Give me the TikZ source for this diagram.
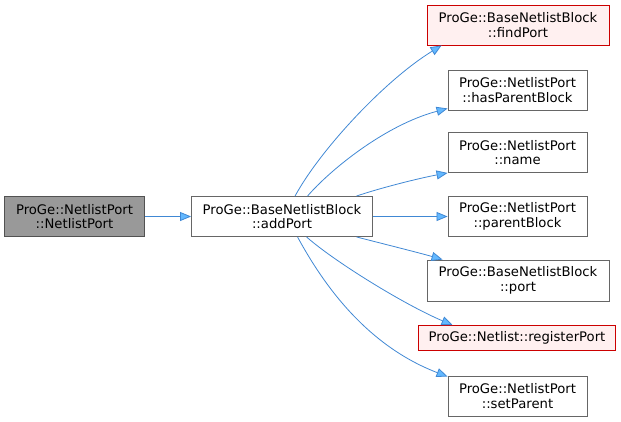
\documentclass[tikz,border=0pt]{standalone}
\usepackage{fontspec}
\setmainfont{DejaVu Sans}
\usetikzlibrary{arrows.meta}
\definecolor{edgec}{HTML}{4088D4}
\definecolor{arrowc}{HTML}{63B8FF}
\definecolor{redfill}{HTML}{FFF0F0}
\definecolor{redline}{HTML}{CC0000}
\definecolor{grayfill}{HTML}{999999}
\definecolor{grayline}{HTML}{666666}
\tikzset{
  box/.style={draw=grayline, fill=white, line width=0.9pt, inner sep=0pt, align=center,
    font=\fontsize{13.2}{14.5}\selectfont, text=black},
  curbox/.style={box, fill=grayfill, draw=grayline!80!black},
  redbox/.style={box, fill=redfill, draw=redline},
  edge/.style={draw=edgec, line width=0.8pt,
    -{Triangle[length=11pt,width=9pt,fill=arrowc]}},
}
\begin{document}
\begin{tikzpicture}[x=1pt,y=-1pt]
\useasboundingbox (0,0) rectangle (621,421);
\node[curbox, minimum width=140pt, minimum height=40pt] (np) at (74.5,216.5) {ProGe::NetlistPort\\::NetlistPort};
\node[box, minimum width=181pt, minimum height=40pt] (ap) at (282,216.5) {ProGe::BaseNetlistBlock\\::addPort};
\node[redbox, minimum width=182pt, minimum height=40pt] (fp) at (518,25) {ProGe::BaseNetlistBlock\\::findPort};
\node[box, minimum width=139pt, minimum height=40pt] (hp) at (517.5,90) {ProGe::NetlistPort\\::hasParentBlock};
\node[box, minimum width=139pt, minimum height=40pt] (nm) at (517.5,152.5) {ProGe::NetlistPort\\::name};
\node[box, minimum width=139pt, minimum height=40pt] (pb) at (517.5,216.5) {ProGe::NetlistPort\\::parentBlock};
\node[box, minimum width=182pt, minimum height=41pt] (pt) at (518,280.5) {ProGe::BaseNetlistBlock\\::port};
\node[redbox, minimum width=197pt, minimum height=25pt] (rp) at (517,338) {ProGe::Netlist::registerPort};
\node[box, minimum width=139pt, minimum height=40pt] (sp) at (517.5,396) {ProGe::NetlistPort\\::setParent};

\draw[edge] (np.east) -- (ap.west);
\draw[edge] ([xshift=104pt]ap.north west) .. controls (320,150) and (385,80) .. ([xshift=15pt]fp.south west);
\draw[edge] ([xshift=116.5pt]ap.north west) .. controls (330,170) and (385,125) .. ([yshift=2pt]hp.south west);
\draw[edge] ([xshift=165.5pt]ap.north west) .. controls (380,188) and (420,178) .. (nm.south west);
\draw[edge] (ap.east) -- (pb.west);
\draw[edge] ([xshift=165.5pt]ap.south west) .. controls (380,243) and (420,253) .. ([xshift=16pt]pt.north west);
\draw[edge] ([xshift=115.5pt]ap.south west) .. controls (335,262) and (405,305) .. ([xshift=34.5pt]rp.north west);
\draw[edge] ([xshift=106.5pt]ap.south west) .. controls (322,282) and (365,345) .. ([yshift=-1pt]sp.north west);
\end{tikzpicture}
\end{document}
